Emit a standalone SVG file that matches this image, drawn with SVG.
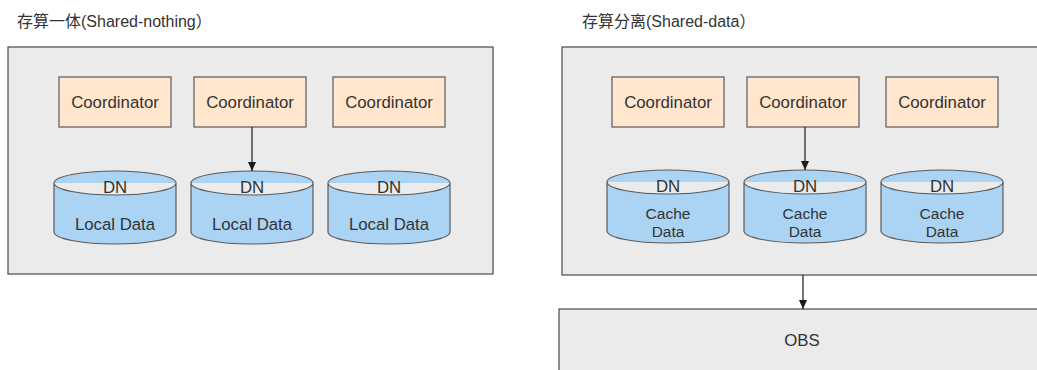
<svg xmlns="http://www.w3.org/2000/svg" width="1037" height="370" viewBox="0 0 1037 370">
  <defs>
    <style>
      .title { font-family: "Liberation Sans", "Noto Sans CJK SC", sans-serif; font-size: 16px; fill: #333; }
      .panel { fill: #ebebeb; stroke: #4a4a4a; stroke-width: 1.2; }
      .coord { fill: #ffe6cc; stroke: #5a5a5a; stroke-width: 1.2; }
      .db { fill: #abd3f4; stroke: #5a5a5a; stroke-width: 1.2; }
      .lbl { font-family: "Liberation Sans", Arial, sans-serif; font-size: 16.8px; fill: #333; text-anchor: middle; }
      .sm { font-size: 15.5px; }
      .edge { stroke: #1a1a1a; stroke-width: 1.2; fill: none; marker-end: url(#arrow); }
    </style>
    <marker id="arrow" markerUnits="userSpaceOnUse" markerWidth="9" markerHeight="9" viewBox="0 0 9 9" refX="9" refY="4.5" orient="auto">
      <path d="M0,0.5 L9,4.5 L0,8.5 Z" fill="#1a1a1a"/>
    </marker>
  </defs>

  <!-- section titles -->
  <text class="title" x="17" y="27">存算一体(Shared-nothing）</text>
  <text class="title" x="582" y="27">存算分离(Shared-data）</text>

  <!-- shared-nothing panel -->
  <g id="panel-left">
    <rect class="panel" x="8" y="47" width="485" height="227"/>
  </g>
  <!-- shared-data panel -->
  <g id="panel-right">
    <rect class="panel" x="562" y="47" width="480" height="228"/>
  </g>
  <!-- object storage -->
  <g id="obs">
    <rect class="panel" x="559" y="309" width="485" height="70"/>
    <text class="lbl" x="802" y="346">OBS</text>
  </g>

  <!-- coordinators, left -->
  <g id="coord-l1">
    <rect class="coord" x="59" y="77" width="112" height="50"/>
    <text class="lbl" x="115" y="108">Coordinator</text>
  </g>
  <g id="coord-l2">
    <rect class="coord" x="194" y="77" width="112" height="50"/>
    <text class="lbl" x="250" y="108">Coordinator</text>
  </g>
  <g id="coord-l3">
    <rect class="coord" x="333" y="77" width="112" height="50"/>
    <text class="lbl" x="389" y="108">Coordinator</text>
  </g>

  <!-- data nodes, left -->
  <g id="dn-l1">
    <path class="db" d="M54,183 a61,12 0 0 1 122,0 v49 a61,12 0 0 1 -122,0 Z M54,183 a61,12 0 0 0 122,0"/>
    <text class="lbl" x="115" y="193">DN</text>
    <text class="lbl" x="115" y="230">Local Data</text>
  </g>
  <g id="dn-l2">
    <path class="db" d="M191,183 a61,12 0 0 1 122,0 v49 a61,12 0 0 1 -122,0 Z M191,183 a61,12 0 0 0 122,0"/>
    <text class="lbl" x="252" y="193">DN</text>
    <text class="lbl" x="252" y="230">Local Data</text>
  </g>
  <g id="dn-l3">
    <path class="db" d="M328,183 a61,12 0 0 1 122,0 v49 a61,12 0 0 1 -122,0 Z M328,183 a61,12 0 0 0 122,0"/>
    <text class="lbl" x="389" y="193">DN</text>
    <text class="lbl" x="389" y="230">Local Data</text>
  </g>

  <!-- coordinators, right -->
  <g id="coord-r1">
    <rect class="coord" x="612" y="77" width="112" height="50"/>
    <text class="lbl" x="668" y="108">Coordinator</text>
  </g>
  <g id="coord-r2">
    <rect class="coord" x="747" y="77" width="112" height="50"/>
    <text class="lbl" x="803" y="108">Coordinator</text>
  </g>
  <g id="coord-r3">
    <rect class="coord" x="886" y="77" width="112" height="50"/>
    <text class="lbl" x="942" y="108">Coordinator</text>
  </g>

  <!-- data nodes, right -->
  <g id="dn-r1">
    <path class="db" d="M607,182 a61,12 0 0 1 122,0 v49 a61,12 0 0 1 -122,0 Z M607,182 a61,12 0 0 0 122,0"/>
    <text class="lbl" x="668" y="192">DN</text>
    <text class="lbl sm" x="668" y="219">Cache</text>
    <text class="lbl sm" x="668" y="237">Data</text>
  </g>
  <g id="dn-r2">
    <path class="db" d="M744,182 a61,12 0 0 1 122,0 v49 a61,12 0 0 1 -122,0 Z M744,182 a61,12 0 0 0 122,0"/>
    <text class="lbl" x="805" y="192">DN</text>
    <text class="lbl sm" x="805" y="219">Cache</text>
    <text class="lbl sm" x="805" y="237">Data</text>
  </g>
  <g id="dn-r3">
    <path class="db" d="M881,182 a61,12 0 0 1 122,0 v49 a61,12 0 0 1 -122,0 Z M881,182 a61,12 0 0 0 122,0"/>
    <text class="lbl" x="942" y="192">DN</text>
    <text class="lbl sm" x="942" y="219">Cache</text>
    <text class="lbl sm" x="942" y="237">Data</text>
  </g>

  <!-- connectors -->
  <g id="connectors">
    <line class="edge" x1="252" y1="127" x2="252" y2="171"/>
    <line class="edge" x1="805" y1="127" x2="805" y2="170"/>
    <line class="edge" x1="803" y1="275" x2="803" y2="309"/>
  </g>
</svg>
